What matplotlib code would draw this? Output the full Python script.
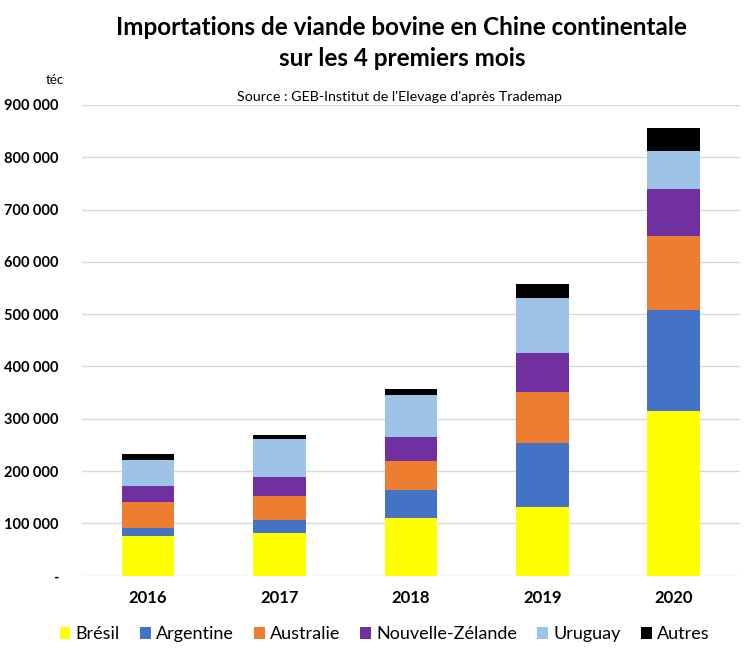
import matplotlib.pyplot as plt
import numpy as np

plt.rcParams['font.family'] = ['Lato', 'DejaVu Sans']

years = ["2016", "2017", "2018", "2019", "2020"]
series = ["Brésil", "Argentine", "Australie", "Nouvelle-Zélande", "Uruguay", "Autres"]
bresil = [75000, 82000, 110000, 131000, 315000]
argentine = [16000, 24000, 53000, 122000, 193000]
australie = [49000, 46000, 57000, 98000, 142000]
nz = [31000, 37000, 45000, 75000, 89000]
uruguay = [51000, 72000, 81000, 104000, 73000]
autres = [11000, 8000, 11000, 27000, 44000]
colors = ["#ffff00", "#4472c4", "#ed7d31", "#7030a0", "#9dc3e6", "#000000"]

fig = plt.figure(figsize=(7.47, 6.5), dpi=100)
ax = fig.add_axes([0.11, 0.1143, 0.88, 0.7242])

x = np.arange(len(years))
bottom = np.zeros(len(years))
for name, vals, c in zip(series, [bresil, argentine, australie, nz, uruguay, autres], colors):
    ax.bar(x, vals, 0.4, bottom=bottom, color=c, label=name, zorder=3)
    bottom += np.array(vals)

ax.set_xlim(-0.5, len(years) - 0.5)
ax.set_ylim(0, 900000)
ticks = np.arange(0, 900001, 100000)
ax.set_yticks(ticks)
ax.set_yticklabels(["-"] + [f"{t:,}".replace(",", " ") for t in ticks[1:]],
                   fontsize=10.5, fontweight="bold")
ax.set_xticks(x)
ax.set_xticklabels(years, fontsize=12, fontweight="bold")
ax.tick_params(axis="y", length=0, pad=17)
ax.tick_params(axis="x", length=0, pad=10)
ax.grid(axis="y", color="#d9d9d9", linewidth=1, zorder=0)
for s in ax.spines.values():
    s.set_visible(False)

fig.text(0.538, 0.958, "Importations de viande bovine en Chine continentale",
         ha="center", va="center", fontsize=17.5, fontweight="bold")
fig.text(0.538, 0.91, "sur les 4 premiers mois",
         ha="center", va="center", fontsize=17.5, fontweight="bold")
fig.text(0.535, 0.851, "Source : GEB-Institut de l'Elevage d'après Trademap",
         ha="center", va="center", fontsize=10.3)
fig.text(0.073, 0.877, "téc", ha="center", va="center", fontsize=9.5)

fig.legend(loc="center", bbox_to_anchor=(0.515, 0.024), ncol=6, frameon=False,
           fontsize=13, handlelength=0.6, handleheight=0.7, handletextpad=0.3,
           columnspacing=1.1)

fig.savefig("out.png", dpi=100)
